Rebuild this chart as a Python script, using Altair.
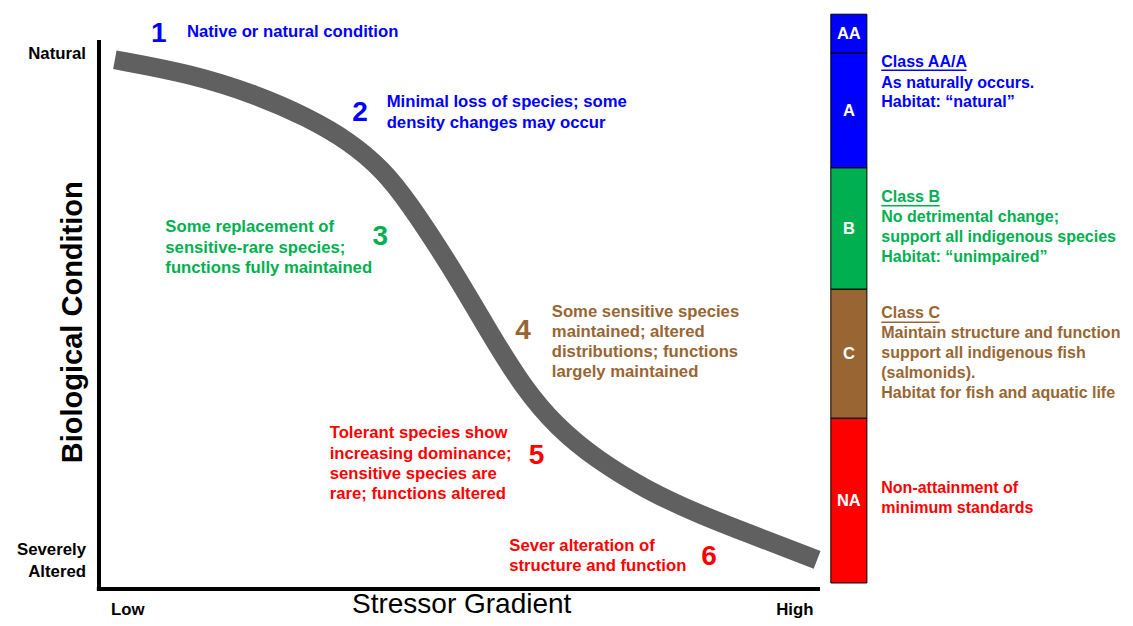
import altair as alt
import pandas as pd

# ---------------- data ----------------
# stress-response curve: stressor gradient (0 = low, 100 = high) vs biological condition (100 = natural)
curve_x = [2.2, 12.6, 21.9, 28.8, 34.8, 39.4, 42.7, 48.7, 54.2, 58.8, 63.5, 69.1, 76.0, 82.9, 89.9, 99.6]
curve_y = [96.4, 93.9, 90.0, 86.0, 81.5, 76.3, 70.9, 59.0, 46.6, 36.8, 29.5, 23.5, 18.0, 13.8, 10.2, 5.3]

# class bar (biological condition bands)
class_names = ["AA", "A", "B", "C", "NA"]
class_top = [104.7, 97.6, 76.7, 54.6, 31.1]
class_bottom = [97.6, 76.7, 54.6, 31.1, 1.1]
class_colors = ["#0000FF", "#0000FF", "#00B050", "#996633", "#FF0000"]

BLUE, GREEN, BROWN, RED = "#0000FF", "#00B050", "#996633", "#FF0000"

# numbered tiers
tier_labels = ["1", "2", "3", "4", "5", "6"]
tier_x = [8.3, 36.2, 39.0, 58.8, 60.7, 84.6]
tier_y = [101.1, 86.7, 64.1, 47.0, 24.2, 5.8]
tier_colors = [BLUE, BLUE, GREEN, BROWN, RED, RED]

# tier descriptions (one entry per line)
tier_lines = [
    ("Native or natural condition", 12.2, 101.5, BLUE),
    ("Minimal loss of species; some", 39.9, 88.7, BLUE),
    ("density changes may occur", 39.9, 84.9, BLUE),
    ("Some replacement of", 9.2, 65.9, GREEN),
    ("sensitive-rare species;", 9.2, 62.1, GREEN),
    ("functions fully maintained", 9.2, 58.5, GREEN),
    ("Some sensitive species", 62.8, 50.5, BROWN),
    ("maintained; altered", 62.8, 46.8, BROWN),
    ("distributions; functions", 62.8, 43.2, BROWN),
    ("largely maintained", 62.8, 39.5, BROWN),
    ("Tolerant species show", 32.0, 28.4, RED),
    ("increasing dominance;", 32.0, 24.6, RED),
    ("sensitive species are", 32.0, 20.9, RED),
    ("rare; functions altered", 32.0, 17.3, RED),
    ("Sever alteration of", 56.9, 7.8, RED),
    ("structure and function", 56.9, 4.2, RED),
]

# class descriptions (one entry per line)
class_lines = [
    ("Class AA/A", 108.5, 96.0, BLUE),
    ("As naturally occurs.", 108.5, 92.2, BLUE),
    ("Habitat: \u201cnatural\u201d", 108.5, 88.7, BLUE),
    ("Class B", 108.5, 71.4, GREEN),
    ("No detrimental change;", 108.5, 67.8, GREEN),
    ("support all indigenous species", 108.5, 64.1, GREEN),
    ("Habitat: \u201cunimpaired\u201d", 108.5, 60.5, GREEN),
    ("Class C", 108.5, 50.3, BROWN),
    ("Maintain structure and function", 108.5, 46.6, BROWN),
    ("support all indigenous fish", 108.5, 43.0, BROWN),
    ("(salmonids).", 108.5, 39.3, BROWN),
    ("Habitat for fish and aquatic life", 108.5, 35.7, BROWN),
    ("Non-attainment of", 108.5, 18.4, RED),
    ("minimum standards", 108.5, 14.8, RED),
]

# underlines for class headings
underline_x = [108.5, 108.5, 108.5]
underline_x2 = [120.3, 116.6, 116.6]
underline_y = [94.5, 69.8, 48.6]
underline_colors = [BLUE, GREEN, BROWN]

XD = [-12.62, 142.30]
YD = [-5.28, 105.83]

FONT = "Liberation Sans"


def X(f, **kw):
    return alt.X(f, type="quantitative", scale=alt.Scale(domain=XD, nice=False, zero=False), axis=None, **kw)


def Y(f, **kw):
    return alt.Y(f, type="quantitative", scale=alt.Scale(domain=YD, nice=False, zero=False), axis=None, **kw)


curve_df = pd.DataFrame({"x": curve_x, "y": curve_y, "o": range(len(curve_x))})
class_df = pd.DataFrame({"name": class_names, "top": class_top, "bottom": class_bottom,
                         "color": class_colors, "x": [101.5] * 5, "x2": [106.5] * 5,
                         "xm": [104.0] * 5,
                         "mid": [(a + b) / 2 for a, b in zip(class_top, class_bottom)]})
tier_df = pd.DataFrame({"t": tier_labels, "x": tier_x, "y": tier_y, "color": tier_colors})
tier_text_df = pd.DataFrame(tier_lines, columns=["t", "x", "y", "color"])
class_text_df = pd.DataFrame(class_lines, columns=["t", "x", "y", "color"])
ul_df = pd.DataFrame({"x": underline_x, "x2": underline_x2, "y": underline_y, "color": underline_colors})
axes_df = pd.DataFrame({"x": [0, -0.3], "x2": [0, 100], "y": [-0.3, 0], "y2": [100, 0]})

axes = alt.Chart(axes_df).mark_rule(color="black", strokeWidth=4).encode(
    x=X("x"), x2="x2", y=Y("y"), y2="y2")

curve = alt.Chart(curve_df).mark_line(color="#606060", strokeWidth=19, strokeCap="butt",
                                      interpolate="basis").encode(
    x=X("x"), y=Y("y"), order="o:Q")

bars = alt.Chart(class_df).mark_rect(stroke="black", strokeWidth=1).encode(
    x=X("x"), x2="x2", y=Y("top"), y2="bottom", color=alt.Color("color:N", scale=None))

bar_labels = alt.Chart(class_df).mark_text(color="white", font=FONT, fontWeight="bold",
                                           fontSize=16.5).encode(
    x=X("xm"), y=Y("mid"), text="name:N")

tiers = alt.Chart(tier_df).mark_text(font=FONT, fontWeight="bold", fontSize=28).encode(
    x=X("x"), y=Y("y"), text="t:N", color=alt.Color("color:N", scale=None))

tier_texts = alt.Chart(tier_text_df).mark_text(font=FONT, fontWeight="bold", fontSize=16.7,
                                               align="left").encode(
    x=X("x"), y=Y("y"), text="t:N", color=alt.Color("color:N", scale=None))

class_texts = alt.Chart(class_text_df).mark_text(font=FONT, fontWeight="bold", fontSize=16.0,
                                                 align="left").encode(
    x=X("x"), y=Y("y"), text="t:N", color=alt.Color("color:N", scale=None))

underlines = alt.Chart(ul_df).mark_rule(strokeWidth=1.5).encode(
    x=X("x"), x2="x2", y=Y("y"), color=alt.Color("color:N", scale=None))

axis_text_df = pd.DataFrame({
    "t": ["Natural", "Severely", "Altered", "Low", "High"],
    "x": [-1.8, -1.8, -1.8, 4.0, 96.5],
    "y": [97.4, 7.1, 3.1, -3.8, -3.8],
})
axis_left = alt.Chart(axis_text_df.iloc[:3]).mark_text(font=FONT, fontWeight="bold", fontSize=16.8,
                                                       align="right", color="black").encode(
    x=X("x"), y=Y("y"), text="t:N")
axis_bottom = alt.Chart(axis_text_df.iloc[3:]).mark_text(font=FONT, fontWeight="bold", fontSize=16.8,
                                                         color="black").encode(
    x=X("x"), y=Y("y"), text="t:N")

ytitle = alt.Chart(pd.DataFrame({"t": ["Biological Condition"], "x": [-2.36], "y": [48.6]})).mark_text(
    font=FONT, fontWeight="bold", fontSize=29, angle=270, baseline="alphabetic", color="black").encode(
    x=X("x"), y=Y("y"), text="t:N")
xtitle = alt.Chart(pd.DataFrame({"t": ["Stressor Gradient"], "x": [50.3], "y": [-4.28]})).mark_text(
    font=FONT, fontSize=28, baseline="alphabetic", color="black").encode(
    x=X("x"), y=Y("y"), text="t:N")

chart = alt.layer(axes, curve, bars, bar_labels, tiers, tier_texts, class_texts, underlines,
                  axis_left, axis_bottom, ytitle, xtitle).properties(
    width=1117, height=610, autosize=alt.AutoSizeParams(type="none"), padding=0,
    background="white"
).configure_view(stroke=None)

chart.save("out.html", embed_options={"renderer": "svg", "actions": False})
